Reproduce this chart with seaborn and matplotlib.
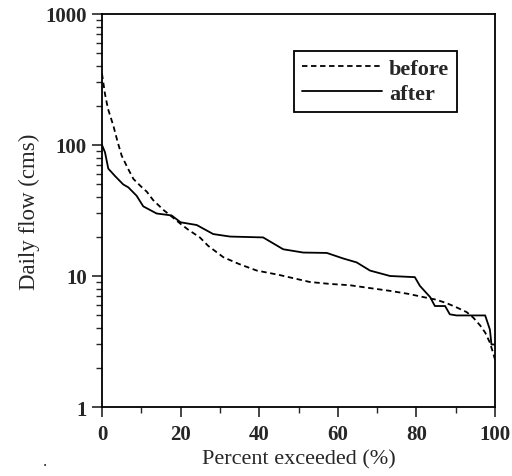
import numpy as np
import pandas as pd
import matplotlib
matplotlib.use("Agg")
import matplotlib.pyplot as plt
import seaborn as sns
from matplotlib.ticker import LogLocator, NullFormatter, FixedLocator
from matplotlib.lines import Line2D

before_x = [0, 0.76, 1.5, 2.9, 4.0, 5.0, 6.5, 8.0, 10.0, 11.4, 13.0, 15.6, 18.0, 20, 22.0, 24.9, 27.0, 30.9, 35.0,
            39.4, 45.0, 52.9, 58.0, 63.1, 68.0, 73.3, 78.0, 81.8, 85.0, 87.7, 90.0, 92.8, 94.5, 96.2, 97.5,
            98.7, 99.5, 100]
before_y = [350, 245, 190, 140, 105, 83, 67, 55, 48, 44, 38, 32, 28, 25, 22.5, 19.7, 17, 13.9, 12.3,
            11, 10.2, 9.0, 8.7, 8.5, 8.1, 7.7, 7.3, 6.9, 6.6, 6.2, 5.8, 5.3, 4.8, 4.2, 3.7,
            3.1, 2.6, 2.3]

after_x = [0, 0.76, 1.6, 3.3, 5.4, 6.7, 8.8, 10.5, 13.9, 17.7, 20, 24.1, 28.3, 32.6, 41, 46.1, 51.2, 57.2, 61.4, 64.8,
           68.2, 73.3, 79.6, 80.9, 83.5, 84.7, 87.3, 88.5, 90.2, 97.5, 98.7, 99.1, 100]
after_y = [100, 88, 66, 58, 50, 47.5, 41, 34, 30, 29, 25.7, 24.5, 20.9, 20, 19.7, 16, 15.1, 15, 13.6, 12.7,
           11, 10, 9.8, 8.4, 6.9, 5.9, 5.9, 5.1, 5.0, 5.0, 3.9, 3.0, 3.0]

x_ticks = [0, 20, 40, 60, 80, 100]
y_ticks = [1, 10, 100, 1000]
y_tick_labels = ["1", "10", "100", "1000"]

df = pd.concat([
    pd.DataFrame({"pct": before_x, "flow": before_y, "series": "before"}),
    pd.DataFrame({"pct": after_x, "flow": after_y, "series": "after"}),
], ignore_index=True)

sns.set_style("ticks")
plt.rcParams["font.family"] = ["Liberation Serif", "DejaVu Serif"]

fig = plt.figure(figsize=(5.12, 4.77), dpi=100)
ax = fig.add_axes([102/512, 1-408/477, (495-102)/512, (408-15)/477])

sns.lineplot(data=df, x="pct", y="flow", hue="series", style="series",
             palette={"before": "black", "after": "black"},
             dashes={"before": (3, 2), "after": ""},
             sort=False, estimator=None, ax=ax, legend=False)
for line in ax.get_lines():
    line.set_linewidth(1.3)

ax.set_yscale("log")
ax.set_xlim(0, 100)
ax.set_ylim(1, 1000)
ax.xaxis.set_major_locator(FixedLocator(x_ticks))
ax.xaxis.set_minor_locator(FixedLocator([10, 30, 50, 70, 90]))
ax.set_xticklabels([str(t) for t in x_ticks])
ax.yaxis.set_major_locator(FixedLocator(y_ticks))
ax.set_yticklabels(y_tick_labels)
ax.yaxis.set_minor_locator(LogLocator(base=10, subs=np.arange(2, 10)))
ax.yaxis.set_minor_formatter(NullFormatter())

for s in ax.spines.values():
    s.set_linewidth(1.3)
    s.set_color("black")
ax.tick_params(which="major", direction="out", length=7, width=1.2, labelsize=15)
ax.tick_params(axis="x", which="major", pad=5)
ax.tick_params(axis="y", which="major", pad=4)
ax.tick_params(which="minor", direction="out", length=4, width=1.0)
for lab in ax.get_xticklabels() + ax.get_yticklabels():
    lab.set_fontweight("bold")

ax.set_xlabel("Percent exceeded (%)", fontsize=16, labelpad=4)
ax.set_ylabel("Daily flow (cms)", fontsize=16.5, labelpad=4)

handles = [Line2D([], [], color="black", lw=1.3, dashes=(3, 2)),
           Line2D([], [], color="black", lw=1.3)]
leg = ax.legend(handles, ["before", "after"], loc="upper right", bbox_to_anchor=(0.903, 0.906),
                frameon=True, fancybox=False, framealpha=1, edgecolor="black",
                prop={"family": "Liberation Serif", "size": 16, "weight": "bold"},
                handlelength=3.6, handletextpad=0.3, borderpad=0.35, labelspacing=0.2,
                borderaxespad=0)
leg.get_frame().set_linewidth(1.3)

fig.text(45/512, 1-462/477, ".", fontsize=12, ha="center", va="center")

fig.savefig("out.png", dpi=100)
